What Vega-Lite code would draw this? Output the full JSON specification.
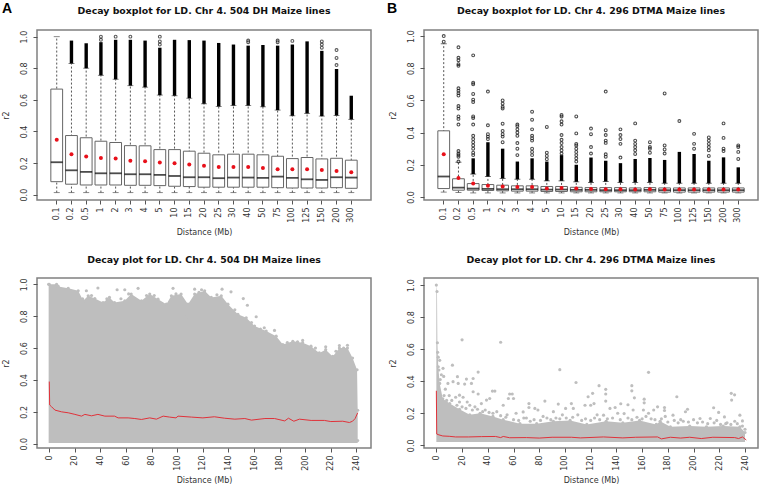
{"$schema":"https://vega.github.io/schema/vega-lite/v6.json","padding":{"left":1,"top":1,"right":0,"bottom":0},"background":"white","bounds":"flush","columns":2,"spacing":{"row":78,"column":53},
"config":{"font":"DejaVu Sans","view":{"stroke":"#808080","strokeWidth":1.5},"axis":{"grid":false,"domain":false,"tickColor":"#555","tickSize":4,"labelColor":"#333","titleColor":"#333","labelFont":"DejaVu Sans","titleFont":"DejaVu Sans","labelFontSize":8,"titleFontSize":8,"titleFontWeight":"normal","labelOverlap":false,"labelFlush":false},"title":{"font":"DejaVu Sans","fontSize":9.4,"fontWeight":"bold","color":"#111","anchor":"middle","offset":13}},
"datasets":{
"A":[
{"cat":"0.1","wlo":0.013,"q1":0.082,"med":0.205,"q3":0.668,"whi":1.0,"dense":1.0,"mean":0.347},
{"cat":"0.2","wlo":0.013,"q1":0.066,"med":0.154,"q3":0.374,"whi":0.83,"dense":0.975,"mean":0.256},
{"cat":"0.5","wlo":0.013,"q1":0.061,"med":0.144,"q3":0.36,"whi":0.8,"dense":0.958,"mean":0.241},
{"cat":"1","wlo":0.013,"q1":0.061,"med":0.135,"q3":0.338,"whi":0.755,"dense":0.965,"mean":0.232},
{"cat":"2","wlo":0.013,"q1":0.061,"med":0.135,"q3":0.33,"whi":0.73,"dense":0.98,"mean":0.228},
{"cat":"3","wlo":0.013,"q1":0.059,"med":0.129,"q3":0.31,"whi":0.69,"dense":0.98,"mean":0.214},
{"cat":"4","wlo":0.013,"q1":0.059,"med":0.129,"q3":0.309,"whi":0.68,"dense":0.975,"mean":0.211},
{"cat":"5","wlo":0.013,"q1":0.057,"med":0.125,"q3":0.285,"whi":0.63,"dense":0.93,"mean":0.203},
{"cat":"10","wlo":0.013,"q1":0.053,"med":0.118,"q3":0.285,"whi":0.626,"dense":0.98,"mean":0.199},
{"cat":"15","wlo":0.013,"q1":0.051,"med":0.11,"q3":0.275,"whi":0.61,"dense":0.978,"mean":0.19},
{"cat":"20","wlo":0.013,"q1":0.047,"med":0.11,"q3":0.262,"whi":0.575,"dense":0.975,"mean":0.182},
{"cat":"25","wlo":0.013,"q1":0.047,"med":0.104,"q3":0.252,"whi":0.558,"dense":0.96,"mean":0.175},
{"cat":"30","wlo":0.013,"q1":0.047,"med":0.108,"q3":0.256,"whi":0.564,"dense":0.95,"mean":0.175},
{"cat":"40","wlo":0.013,"q1":0.047,"med":0.108,"q3":0.256,"whi":0.564,"dense":0.943,"mean":0.175},
{"cat":"50","wlo":0.013,"q1":0.047,"med":0.106,"q3":0.252,"whi":0.556,"dense":0.947,"mean":0.169},
{"cat":"75","wlo":0.013,"q1":0.044,"med":0.114,"q3":0.243,"whi":0.535,"dense":0.943,"mean":0.16},
{"cat":"100","wlo":0.013,"q1":0.042,"med":0.106,"q3":0.228,"whi":0.499,"dense":0.95,"mean":0.16},
{"cat":"125","wlo":0.013,"q1":0.042,"med":0.097,"q3":0.235,"whi":0.514,"dense":0.97,"mean":0.16},
{"cat":"150","wlo":0.013,"q1":0.042,"med":0.093,"q3":0.226,"whi":0.497,"dense":0.91,"mean":0.156},
{"cat":"200","wlo":0.013,"q1":0.044,"med":0.11,"q3":0.23,"whi":0.501,"dense":0.795,"mean":0.15},
{"cat":"300","wlo":0.013,"q1":0.04,"med":0.108,"q3":0.218,"whi":0.476,"dense":0.626,"mean":0.142}],
"Aout":[{"cat":"1","r2":1.0},{"cat":"1","r2":0.98},{"cat":"2","r2":1.0},{"cat":"3","r2":1.0},{"cat":"5","r2":1.0},{"cat":"5","r2":0.97},{"cat":"5","r2":0.95},{"cat":"40","r2":0.975},{"cat":"40","r2":0.965},{"cat":"75","r2":0.975},{"cat":"75","r2":0.965},{"cat":"100","r2":0.973},{"cat":"150","r2":0.97},{"cat":"150","r2":0.95},{"cat":"150","r2":0.93},{"cat":"200","r2":0.915},{"cat":"200","r2":0.865},{"cat":"200","r2":0.82}],
"B":[
{"cat":"0.1","wlo":0.03,"q1":0.052,"med":0.127,"q3":0.411,"whi":0.952,"dense":0.952,"mean":0.265},
{"cat":"0.2","wlo":0.027,"q1":0.042,"med":0.058,"q3":0.113,"whi":0.215,"dense":0.215,"mean":0.117},
{"cat":"0.5","wlo":0.025,"q1":0.042,"med":0.052,"q3":0.083,"whi":0.142,"dense":0.24,"mean":0.083},
{"cat":"1","wlo":0.025,"q1":0.04,"med":0.05,"q3":0.077,"whi":0.127,"dense":0.34,"mean":0.069},
{"cat":"2","wlo":0.025,"q1":0.038,"med":0.048,"q3":0.073,"whi":0.115,"dense":0.3,"mean":0.065},
{"cat":"3","wlo":0.025,"q1":0.036,"med":0.048,"q3":0.069,"whi":0.11,"dense":0.22,"mean":0.062},
{"cat":"4","wlo":0.025,"q1":0.036,"med":0.048,"q3":0.069,"whi":0.11,"dense":0.24,"mean":0.062},
{"cat":"5","wlo":0.025,"q1":0.034,"med":0.046,"q3":0.065,"whi":0.1,"dense":0.22,"mean":0.052},
{"cat":"10","wlo":0.025,"q1":0.034,"med":0.046,"q3":0.065,"whi":0.1,"dense":0.26,"mean":0.056},
{"cat":"15","wlo":0.025,"q1":0.032,"med":0.044,"q3":0.06,"whi":0.094,"dense":0.2,"mean":0.052},
{"cat":"20","wlo":0.025,"q1":0.032,"med":0.044,"q3":0.058,"whi":0.09,"dense":0.245,"mean":0.05},
{"cat":"25","wlo":0.025,"q1":0.032,"med":0.042,"q3":0.058,"whi":0.096,"dense":0.225,"mean":0.048},
{"cat":"30","wlo":0.025,"q1":0.032,"med":0.042,"q3":0.058,"whi":0.09,"dense":0.21,"mean":0.048},
{"cat":"40","wlo":0.025,"q1":0.032,"med":0.042,"q3":0.056,"whi":0.09,"dense":0.236,"mean":0.047},
{"cat":"50","wlo":0.025,"q1":0.032,"med":0.044,"q3":0.058,"whi":0.09,"dense":0.242,"mean":0.048},
{"cat":"75","wlo":0.025,"q1":0.03,"med":0.042,"q3":0.056,"whi":0.085,"dense":0.23,"mean":0.046},
{"cat":"100","wlo":0.025,"q1":0.03,"med":0.042,"q3":0.056,"whi":0.085,"dense":0.28,"mean":0.046},
{"cat":"125","wlo":0.025,"q1":0.03,"med":0.042,"q3":0.056,"whi":0.085,"dense":0.267,"mean":0.046},
{"cat":"150","wlo":0.025,"q1":0.03,"med":0.042,"q3":0.056,"whi":0.085,"dense":0.225,"mean":0.046},
{"cat":"200","wlo":0.025,"q1":0.03,"med":0.042,"q3":0.056,"whi":0.085,"dense":0.246,"mean":0.046},
{"cat":"300","wlo":0.025,"q1":0.03,"med":0.042,"q3":0.056,"whi":0.085,"dense":0.184,"mean":0.046}],
"Bout":[{"cat":"0.1","r2":1.0},{"cat":"0.1","r2":0.965},
{"cat":"0.2","r2":0.93},{"cat":"0.2","r2":0.865},{"cat":"0.2","r2":0.85},{"cat":"0.2","r2":0.825},{"cat":"0.2","r2":0.815},{"cat":"0.2","r2":0.675},{"cat":"0.2","r2":0.66},{"cat":"0.2","r2":0.645},{"cat":"0.2","r2":0.63},{"cat":"0.2","r2":0.565},{"cat":"0.2","r2":0.55},{"cat":"0.2","r2":0.5},{"cat":"0.2","r2":0.485},{"cat":"0.2","r2":0.45},{"cat":"0.2","r2":0.285},{"cat":"0.2","r2":0.27},{"cat":"0.2","r2":0.26},{"cat":"0.2","r2":0.25},{"cat":"0.2","r2":0.22},
{"cat":"0.5","r2":0.88},{"cat":"0.5","r2":0.71},{"cat":"0.5","r2":0.7},{"cat":"0.5","r2":0.64},{"cat":"0.5","r2":0.605},{"cat":"0.5","r2":0.59},{"cat":"0.5","r2":0.5},{"cat":"0.5","r2":0.49},{"cat":"0.5","r2":0.45},{"cat":"0.5","r2":0.38},{"cat":"0.5","r2":0.36},{"cat":"0.5","r2":0.34},{"cat":"0.5","r2":0.32},{"cat":"0.5","r2":0.3},{"cat":"0.5","r2":0.275},{"cat":"0.5","r2":0.26},
{"cat":"1","r2":0.655},{"cat":"1","r2":0.445},{"cat":"1","r2":0.39},{"cat":"1","r2":0.375},{"cat":"1","r2":0.36},
{"cat":"2","r2":0.6},{"cat":"2","r2":0.58},{"cat":"2","r2":0.56},{"cat":"2","r2":0.55},{"cat":"2","r2":0.455},{"cat":"2","r2":0.41},{"cat":"2","r2":0.39},{"cat":"2","r2":0.375},{"cat":"2","r2":0.34},
{"cat":"3","r2":0.45},{"cat":"3","r2":0.44},{"cat":"3","r2":0.42},{"cat":"3","r2":0.4},{"cat":"3","r2":0.38},{"cat":"3","r2":0.335},{"cat":"3","r2":0.3},{"cat":"3","r2":0.26},
{"cat":"4","r2":0.53},{"cat":"4","r2":0.48},{"cat":"4","r2":0.42},{"cat":"4","r2":0.38},{"cat":"4","r2":0.365},{"cat":"4","r2":0.35},{"cat":"4","r2":0.3},{"cat":"4","r2":0.28},{"cat":"4","r2":0.26},
{"cat":"5","r2":0.435},{"cat":"5","r2":0.275},{"cat":"5","r2":0.255},{"cat":"5","r2":0.235},
{"cat":"10","r2":0.51},{"cat":"10","r2":0.5},{"cat":"10","r2":0.47},{"cat":"10","r2":0.45},{"cat":"10","r2":0.385},{"cat":"10","r2":0.355},{"cat":"10","r2":0.335},{"cat":"10","r2":0.31},{"cat":"10","r2":0.29},{"cat":"10","r2":0.27},
{"cat":"15","r2":0.5},{"cat":"15","r2":0.395},{"cat":"15","r2":0.33},{"cat":"15","r2":0.32},{"cat":"15","r2":0.3},{"cat":"15","r2":0.28},{"cat":"15","r2":0.26},{"cat":"15","r2":0.24},{"cat":"15","r2":0.22},
{"cat":"20","r2":0.425},{"cat":"20","r2":0.39},{"cat":"20","r2":0.31},{"cat":"20","r2":0.27},
{"cat":"25","r2":0.655},{"cat":"25","r2":0.415},{"cat":"25","r2":0.385},{"cat":"25","r2":0.35},{"cat":"25","r2":0.336},{"cat":"25","r2":0.265},{"cat":"25","r2":0.25},
{"cat":"30","r2":0.42},{"cat":"30","r2":0.385},{"cat":"30","r2":0.36},{"cat":"30","r2":0.33},{"cat":"30","r2":0.245},
{"cat":"40","r2":0.457},{"cat":"40","r2":0.35},{"cat":"40","r2":0.33},{"cat":"40","r2":0.31},{"cat":"40","r2":0.29},{"cat":"40","r2":0.267},
{"cat":"50","r2":0.34},{"cat":"50","r2":0.31},{"cat":"50","r2":0.3},{"cat":"50","r2":0.275},
{"cat":"75","r2":0.643},{"cat":"75","r2":0.32},{"cat":"75","r2":0.295},{"cat":"75","r2":0.27},
{"cat":"100","r2":0.472},{"cat":"125","r2":0.392},{"cat":"125","r2":0.33},{"cat":"125","r2":0.3},
{"cat":"150","r2":0.37},{"cat":"150","r2":0.35},{"cat":"150","r2":0.33},{"cat":"150","r2":0.31},{"cat":"150","r2":0.29},{"cat":"150","r2":0.255},
{"cat":"200","r2":0.457},{"cat":"200","r2":0.367},{"cat":"200","r2":0.3},{"cat":"200","r2":0.285},
{"cat":"300","r2":0.32},{"cat":"300","r2":0.31},{"cat":"300","r2":0.28},{"cat":"300","r2":0.236}],
"Ccloud":[{"mb":-0.5,"r2":1.0,"low":0.005},{"mb":0,"r2":1.0,"low":0.005},{"mb":5.7,"r2":1.0,"low":0.005},{"mb":7,"r2":0.987,"low":0.005},{"mb":14.8,"r2":0.975,"low":0.005},{"mb":22.6,"r2":0.96,"low":0.005},{"mb":26.5,"r2":0.897,"low":0.005},{"mb":30.4,"r2":0.928,"low":0.005},{"mb":35.6,"r2":0.911,"low":0.005},{"mb":42,"r2":0.886,"low":0.005},{"mb":47,"r2":0.918,"low":0.005},{"mb":51,"r2":0.886,"low":0.005},{"mb":59,"r2":0.897,"low":0.005},{"mb":64,"r2":0.939,"low":0.005},{"mb":72,"r2":0.897,"low":0.005},{"mb":78.5,"r2":0.939,"low":0.005},{"mb":85,"r2":0.907,"low":0.005},{"mb":91.5,"r2":0.876,"low":0.005},{"mb":95.4,"r2":0.928,"low":0.005},{"mb":103,"r2":0.939,"low":0.005},{"mb":108.4,"r2":0.876,"low":0.005},{"mb":113.6,"r2":0.939,"low":0.005},{"mb":121.4,"r2":0.96,"low":0.005},{"mb":126.6,"r2":0.918,"low":0.005},{"mb":134.4,"r2":0.928,"low":0.005},{"mb":139.6,"r2":0.876,"low":0.005},{"mb":147.4,"r2":0.812,"low":0.005},{"mb":153.9,"r2":0.79,"low":0.005},{"mb":160.4,"r2":0.738,"low":0.005},{"mb":169.5,"r2":0.707,"low":0.005},{"mb":177.3,"r2":0.675,"low":0.005},{"mb":182.5,"r2":0.622,"low":0.005},{"mb":190.3,"r2":0.643,"low":0.005},{"mb":198,"r2":0.633,"low":0.005},{"mb":204.5,"r2":0.612,"low":0.005},{"mb":211,"r2":0.57,"low":0.005},{"mb":216,"r2":0.59,"low":0.005},{"mb":221.5,"r2":0.548,"low":0.005},{"mb":226.7,"r2":0.6,"low":0.005},{"mb":233,"r2":0.6,"low":0.005},{"mb":237,"r2":0.538,"low":0.005},{"mb":240.5,"r2":0.464,"low":0.005},{"mb":241,"r2":0.21,"low":0.005},{"mb":241,"r2":0.02,"low":0.005}],
"Cpts":[{"mb":38,"r2":0.977},{"mb":53,"r2":0.966},{"mb":59,"r2":0.966},{"mb":69.4,"r2":0.975},{"mb":96.7,"r2":0.975},{"mb":107,"r2":0.797},{"mb":113.6,"r2":0.97},{"mb":29,"r2":0.96},{"mb":119,"r2":0.966},{"mb":135,"r2":0.97},{"mb":142,"r2":0.953},{"mb":151.6,"r2":0.911},{"mb":154.8,"r2":0.869},{"mb":161.7,"r2":0.797},{"mb":176,"r2":0.711},{"mb":198,"r2":0.648},{"mb":168,"r2":0.728},{"mb":158,"r2":0.76},{"mb":216,"r2":0.608},{"mb":226.7,"r2":0.616},{"mb":233,"r2":0.618},{"mb":26,"r2":0.91},{"mb":33,"r2":0.93},{"mb":45,"r2":0.91},{"mb":56,"r2":0.91},{"mb":62,"r2":0.94},{"mb":76,"r2":0.93},{"mb":82,"r2":0.93},{"mb":99,"r2":0.94},{"mb":117,"r2":0.95},{"mb":131,"r2":0.935},{"mb":145,"r2":0.84},{"mb":165,"r2":0.72},{"mb":186,"r2":0.635},{"mb":194,"r2":0.64},{"mb":208,"r2":0.6},{"mb":224,"r2":0.58},{"mb":230,"r2":0.6}],
"Cline":[{"mb":0,"r2":0.39},{"mb":0.3,"r2":0.243},{"mb":1.8,"r2":0.232},{"mb":4.4,"r2":0.211},{"mb":9.6,"r2":0.2},{"mb":14.8,"r2":0.194},{"mb":20,"r2":0.184},{"mb":25.2,"r2":0.173},{"mb":27.8,"r2":0.184},{"mb":33,"r2":0.175},{"mb":38,"r2":0.184},{"mb":43.4,"r2":0.173},{"mb":51,"r2":0.173},{"mb":53.8,"r2":0.162},{"mb":61.6,"r2":0.162},{"mb":66.8,"r2":0.158},{"mb":72,"r2":0.152},{"mb":78.5,"r2":0.162},{"mb":83.7,"r2":0.154},{"mb":89,"r2":0.173},{"mb":94,"r2":0.167},{"mb":99,"r2":0.162},{"mb":100.6,"r2":0.173},{"mb":111,"r2":0.167},{"mb":120,"r2":0.162},{"mb":129,"r2":0.169},{"mb":137,"r2":0.16},{"mb":145,"r2":0.154},{"mb":152.8,"r2":0.158},{"mb":158,"r2":0.148},{"mb":168.5,"r2":0.158},{"mb":176,"r2":0.158},{"mb":184,"r2":0.143},{"mb":186.9,"r2":0.16},{"mb":191.1,"r2":0.141},{"mb":195.5,"r2":0.154},{"mb":204.6,"r2":0.146},{"mb":215,"r2":0.146},{"mb":220,"r2":0.139},{"mb":229.3,"r2":0.141},{"mb":234.5,"r2":0.133},{"mb":237,"r2":0.141},{"mb":239,"r2":0.158},{"mb":241,"r2":0.194}],
"Dcloud":[{"mb":0,"r2":1.0,"low":0.02},{"mb":0.5,"r2":0.96,"low":0.02},{"mb":0.8,"r2":0.64,"low":0.02},{"mb":1.5,"r2":0.49,"low":0.02},{"mb":2.6,"r2":0.386,"low":0.02},{"mb":5,"r2":0.29,"low":0.02},{"mb":10.4,"r2":0.26,"low":0.02},{"mb":18,"r2":0.225,"low":0.02},{"mb":26,"r2":0.19,"low":0.02},{"mb":34,"r2":0.2,"low":0.02},{"mb":44,"r2":0.18,"low":0.02},{"mb":52,"r2":0.16,"low":0.02},{"mb":65,"r2":0.135,"low":0.02},{"mb":78,"r2":0.135,"low":0.02},{"mb":91,"r2":0.15,"low":0.02},{"mb":104,"r2":0.155,"low":0.02},{"mb":117,"r2":0.13,"low":0.02},{"mb":132,"r2":0.15,"low":0.02},{"mb":145,"r2":0.14,"low":0.02},{"mb":158,"r2":0.155,"low":0.02},{"mb":171,"r2":0.13,"low":0.02},{"mb":174,"r2":0.15,"low":0.02},{"mb":182,"r2":0.115,"low":0.02},{"mb":197,"r2":0.12,"low":0.02},{"mb":210,"r2":0.115,"low":0.02},{"mb":223,"r2":0.12,"low":0.02},{"mb":236,"r2":0.115,"low":0.02},{"mb":240,"r2":0.08,"low":0.02}],
"Dpts":[{"mb":20,"r2":0.658},{"mb":50,"r2":0.643},{"mb":96,"r2":0.472},{"mb":108.6,"r2":0.392},{"mb":118,"r2":0.303},{"mb":12.5,"r2":0.5},{"mb":2.6,"r2":0.53},{"mb":5.2,"r2":0.48},{"mb":3.9,"r2":0.44},{"mb":5.7,"r2":0.43},{"mb":16.4,"r2":0.428},{"mb":32.5,"r2":0.457},{"mb":23.4,"r2":0.413},{"mb":28.6,"r2":0.417},{"mb":22,"r2":0.382},{"mb":27.3,"r2":0.386},{"mb":28.6,"r2":0.334},{"mb":32.5,"r2":0.32},{"mb":9,"r2":0.386},{"mb":13,"r2":0.397},{"mb":17,"r2":0.386},{"mb":18,"r2":0.313},{"mb":20.8,"r2":0.3},{"mb":43.6,"r2":0.338},{"mb":45.5,"r2":0.338},{"mb":41.5,"r2":0.292},{"mb":39,"r2":0.282},{"mb":57,"r2":0.32},{"mb":59,"r2":0.32},{"mb":56,"r2":0.292},{"mb":60,"r2":0.292},{"mb":52,"r2":0.25},{"mb":84.4,"r2":0.276},{"mb":72,"r2":0.26},{"mb":72,"r2":0.236},{"mb":76.6,"r2":0.23},{"mb":94.8,"r2":0.257},{"mb":105,"r2":0.26},{"mb":106.5,"r2":0.23},{"mb":100.5,"r2":0.23},{"mb":115.6,"r2":0.25},{"mb":35,"r2":0.26},{"mb":18,"r2":0.27},{"mb":26,"r2":0.25},{"mb":62,"r2":0.2},{"mb":67.5,"r2":0.208},{"mb":79,"r2":0.22},{"mb":91,"r2":0.21},{"mb":165,"r2":0.455},{"mb":126.5,"r2":0.372},{"mb":131.7,"r2":0.349},{"mb":131.7,"r2":0.32},{"mb":131.7,"r2":0.276},{"mb":121.5,"r2":0.324},{"mb":152,"r2":0.372},{"mb":152,"r2":0.34},{"mb":154,"r2":0.296},{"mb":161.6,"r2":0.288},{"mb":161.6,"r2":0.265},{"mb":187,"r2":0.303},{"mb":229.3,"r2":0.324},{"mb":231.9,"r2":0.315},{"mb":229.6,"r2":0.282},{"mb":143.4,"r2":0.259},{"mb":149,"r2":0.253},{"mb":172,"r2":0.24},{"mb":177.4,"r2":0.236},{"mb":177.4,"r2":0.217},{"mb":195.3,"r2":0.225},{"mb":193.7,"r2":0.209},{"mb":215.6,"r2":0.234},{"mb":219.5,"r2":0.205},{"mb":224,"r2":0.177},{"mb":236,"r2":0.188},{"mb":238,"r2":0.152},{"mb":135,"r2":0.23},{"mb":139,"r2":0.236},{"mb":130,"r2":0.188},{"mb":153,"r2":0.22},{"mb":161,"r2":0.22},{"mb":169,"r2":0.22},{"mb":184,"r2":0.188},{"mb":205,"r2":0.167},{"mb":213,"r2":0.167},{"mb":226,"r2":0.14},{"mb":146,"r2":0.198},{"mb":120,"r2":0.25},{"mb":122.6,"r2":0.26},{"mb":1,"r2":0.58},{"mb":1.5,"r2":0.55},{"mb":2,"r2":0.47},{"mb":3,"r2":0.41},{"mb":7,"r2":0.35},{"mb":10,"r2":0.31},{"mb":15,"r2":0.3},{"mb":24,"r2":0.27},{"mb":30,"r2":0.24},{"mb":38,"r2":0.22},{"mb":47,"r2":0.21},{"mb":55,"r2":0.19},{"mb":70,"r2":0.17},{"mb":83,"r2":0.18},{"mb":98,"r2":0.19},{"mb":110,"r2":0.19},{"mb":125,"r2":0.19},{"mb":141,"r2":0.2},{"mb":165,"r2":0.2},{"mb":178,"r2":0.18},{"mb":190,"r2":0.16},{"mb":200,"r2":0.16},{"mb":218,"r2":0.155},{"mb":232,"r2":0.15},{"mb":6,"r2":0.31},{"mb":8,"r2":0.28},{"mb":12,"r2":0.28},{"mb":16,"r2":0.25},{"mb":20,"r2":0.24},{"mb":23,"r2":0.23},{"mb":28,"r2":0.22},{"mb":32,"r2":0.225},{"mb":36,"r2":0.21},{"mb":41,"r2":0.205},{"mb":44,"r2":0.2},{"mb":50,"r2":0.185},{"mb":54,"r2":0.175},{"mb":60,"r2":0.16},{"mb":64,"r2":0.155},{"mb":68,"r2":0.17},{"mb":73,"r2":0.15},{"mb":76,"r2":0.16},{"mb":81,"r2":0.155},{"mb":86,"r2":0.17},{"mb":89,"r2":0.16},{"mb":93,"r2":0.17},{"mb":96,"r2":0.165},{"mb":101,"r2":0.17},{"mb":106,"r2":0.175},{"mb":113,"r2":0.155},{"mb":116,"r2":0.165},{"mb":120,"r2":0.155},{"mb":123,"r2":0.17},{"mb":127,"r2":0.16},{"mb":133,"r2":0.165},{"mb":137,"r2":0.17},{"mb":143,"r2":0.16},{"mb":149,"r2":0.17},{"mb":152,"r2":0.16},{"mb":156,"r2":0.175},{"mb":160,"r2":0.165},{"mb":163,"r2":0.18},{"mb":167,"r2":0.165},{"mb":170,"r2":0.16},{"mb":175,"r2":0.165},{"mb":180,"r2":0.145},{"mb":185,"r2":0.155},{"mb":188,"r2":0.14},{"mb":192,"r2":0.15},{"mb":196,"r2":0.145},{"mb":203,"r2":0.14},{"mb":207,"r2":0.145},{"mb":211,"r2":0.135},{"mb":216,"r2":0.14},{"mb":221,"r2":0.13},{"mb":225,"r2":0.135},{"mb":229,"r2":0.13},{"mb":234,"r2":0.135},{"mb":238,"r2":0.12},{"mb":240,"r2":0.1}],
"Dline":[{"mb":0,"r2":0.34},{"mb":0.3,"r2":0.07},{"mb":2,"r2":0.065},{"mb":5,"r2":0.058},{"mb":10,"r2":0.056},{"mb":15,"r2":0.052},{"mb":25,"r2":0.052},{"mb":35,"r2":0.054},{"mb":46,"r2":0.055},{"mb":50,"r2":0.048},{"mb":52,"r2":0.055},{"mb":57,"r2":0.047},{"mb":70,"r2":0.048},{"mb":80,"r2":0.045},{"mb":90,"r2":0.05},{"mb":105,"r2":0.05},{"mb":112,"r2":0.046},{"mb":130,"r2":0.052},{"mb":145,"r2":0.046},{"mb":155,"r2":0.05},{"mb":172,"r2":0.052},{"mb":175,"r2":0.04},{"mb":182,"r2":0.05},{"mb":190,"r2":0.045},{"mb":197,"r2":0.05},{"mb":206,"r2":0.042},{"mb":215,"r2":0.05},{"mb":232,"r2":0.048},{"mb":235,"r2":0.042},{"mb":238,"r2":0.052},{"mb":241,"r2":0.033}],
"letA":[{"t":"A"}],"letB":[{"t":"B"}]
},
"concat":[
{"width":334,"height":170,"title":{"text":"Decay boxplot for LD. Chr 4. 504 DH Maize lines","dy":27},
"encoding":{"x":{"field":"cat","type":"nominal","scale":{"domain":["0.1","0.2","0.5","1","2","3","4","5","10","15","20","25","30","40","50","75","100","125","150","200","300"],"paddingInner":0.2,"paddingOuter":0.94},"axis":{"labelAngle":-90,"labelAlign":"right","labelBaseline":"middle","labelPadding":3,"title":"Distance (Mb)","titleX":167,"titleY":32,"titleAnchor":"middle","titleBaseline":"middle"}},"y":{"field":"v","type":"quantitative","scale":{"domain":[-0.034,1.042],"nice":false,"zero":false},"axis":{"values":[0,0.2,0.4,0.6,0.8,1],"format":".1f","labelAngle":-90,"labelAlign":"center","labelBaseline":"bottom","labelPadding":5,"title":"r2","titleX":-31,"titleY":85,"titleAngle":-90,"titleBaseline":"middle","titleAnchor":"middle"}}},
"layer":[
{"data":{"name":"letA"},"mark":{"type":"text","font":"Liberation Sans","fontWeight":"bold","fontSize":14,"align":"left","baseline":"top","color":"#000"},"encoding":{"x":{"value":-35},"y":{"value":-28},"text":{"field":"t"}}},
{"data":{"name":"A"},"transform":[{"fold":["wlo"],"as":["k","v"]}],"mark":{"type":"rule","stroke":"#555","strokeDash":[2,2],"strokeWidth":1},"encoding":{"y2":{"field":"whi"}}},
{"data":{"name":"A"},"transform":[{"fold":["wlo"],"as":["k","v"]}],"mark":{"type":"tick","size":6,"thickness":1,"color":"#555","orient":"horizontal"}},
{"data":{"name":"A"},"transform":[{"fold":["whi"],"as":["k","v"]}],"mark":{"type":"tick","size":6,"thickness":1,"color":"#555","orient":"horizontal"}},
{"data":{"name":"A"},"transform":[{"fold":["whi"],"as":["k","v"]}],"mark":{"type":"rule","stroke":"#000","strokeWidth":3.4},"encoding":{"y2":{"field":"dense"}}},
{"data":{"name":"Aout"},"transform":[{"fold":["r2"],"as":["k","v"]}],"mark":{"type":"point","size":8,"stroke":"#222","strokeWidth":1.1,"filled":false,"opacity":0.75}},
{"data":{"name":"A"},"transform":[{"fold":["q1"],"as":["k","v"]}],"mark":{"type":"bar","fill":"white","stroke":"#666","strokeWidth":1},"encoding":{"y2":{"field":"q3"}}},
{"data":{"name":"A"},"transform":[{"fold":["med"],"as":["k","v"]}],"mark":{"type":"tick","size":12,"thickness":1.8,"color":"#000","orient":"horizontal"}},
{"data":{"name":"A"},"transform":[{"fold":["mean"],"as":["k","v"]}],"mark":{"type":"circle","size":16,"color":"#e8101a","opacity":1}}
]},
{"width":334,"height":170,"title":{"text":"Decay boxplot for LD. Chr 4. 296 DTMA Maize lines","dy":27},
"encoding":{"x":{"field":"cat","type":"nominal","scale":{"domain":["0.1","0.2","0.5","1","2","3","4","5","10","15","20","25","30","40","50","75","100","125","150","200","300"],"paddingInner":0.2,"paddingOuter":0.94},"axis":{"labelAngle":-90,"labelAlign":"right","labelBaseline":"middle","labelPadding":3,"title":"Distance (Mb)","titleX":167,"titleY":32,"titleAnchor":"middle","titleBaseline":"middle"}},"y":{"field":"v","type":"quantitative","scale":{"domain":[-0.019,1.0375],"nice":false,"zero":false},"axis":{"values":[0,0.2,0.4,0.6,0.8,1],"format":".1f","labelAngle":-90,"labelAlign":"center","labelBaseline":"bottom","labelPadding":5,"title":"r2","titleX":-31,"titleY":85,"titleAngle":-90,"titleBaseline":"middle","titleAnchor":"middle"}}},
"layer":[
{"data":{"name":"letB"},"mark":{"type":"text","font":"Liberation Sans","fontWeight":"bold","fontSize":14,"align":"left","baseline":"top","color":"#000"},"encoding":{"x":{"value":-37},"y":{"value":-28},"text":{"field":"t"}}},
{"data":{"name":"B"},"transform":[{"fold":["wlo"],"as":["k","v"]}],"mark":{"type":"rule","stroke":"#555","strokeDash":[2,2],"strokeWidth":1},"encoding":{"y2":{"field":"whi"}}},
{"data":{"name":"B"},"transform":[{"fold":["wlo"],"as":["k","v"]}],"mark":{"type":"tick","size":6,"thickness":1,"color":"#555","orient":"horizontal"}},
{"data":{"name":"B"},"transform":[{"fold":["whi"],"as":["k","v"]}],"mark":{"type":"tick","size":6,"thickness":1,"color":"#333","orient":"horizontal"}},
{"data":{"name":"B"},"transform":[{"fold":["whi"],"as":["k","v"]}],"mark":{"type":"rule","stroke":"#000","strokeWidth":3.4},"encoding":{"y2":{"field":"dense"}}},
{"data":{"name":"Bout"},"transform":[{"fold":["r2"],"as":["k","v"]}],"mark":{"type":"point","size":8,"stroke":"#222","strokeWidth":1.1,"filled":false,"opacity":0.8}},
{"data":{"name":"B"},"transform":[{"fold":["q1"],"as":["k","v"]}],"mark":{"type":"bar","fill":"white","stroke":"#666","strokeWidth":1},"encoding":{"y2":{"field":"q3"}}},
{"data":{"name":"B"},"transform":[{"fold":["med"],"as":["k","v"]}],"mark":{"type":"tick","size":12,"thickness":1.8,"color":"#000","orient":"horizontal"}},
{"data":{"name":"B"},"transform":[{"fold":["mean"],"as":["k","v"]}],"mark":{"type":"circle","size":16,"color":"#e8101a","opacity":1}}
]},
{"width":334,"height":170,"title":"Decay plot for LD. Chr 4. 504 DH Maize lines",
"encoding":{"x":{"field":"mb","type":"quantitative","scale":{"domain":[-9.6,251.4],"nice":false,"zero":false},"axis":{"values":[0,20,40,60,80,100,120,140,160,180,200,220,240],"labelAngle":-90,"labelAlign":"right","labelBaseline":"middle","labelPadding":3,"title":"Distance (Mb)","titleX":167,"titleY":32,"titleAnchor":"middle","titleBaseline":"middle"}},"y":{"field":"r2","type":"quantitative","scale":{"domain":[-0.027,1.04],"nice":false,"zero":false},"axis":{"values":[0,0.2,0.4,0.6,0.8,1],"format":".1f","labelAngle":-90,"labelAlign":"center","labelBaseline":"bottom","labelPadding":5,"title":"r2","titleX":-31,"titleY":85,"titleAngle":-90,"titleBaseline":"middle","titleAnchor":"middle"}}},
"layer":[
{"data":{"name":"Ccloud"},"mark":{"type":"area","orient":"vertical","color":"#bebebe","opacity":1},"encoding":{"y2":{"field":"low"}}},
{"data":{"name":"Ccloud"},"mark":{"type":"circle","size":10,"color":"#bebebe","opacity":1}},
{"data":{"name":"Cpts"},"mark":{"type":"circle","size":10,"color":"#bebebe","opacity":1}},
{"data":{"name":"Cline"},"mark":{"type":"line","color":"#e0323a","strokeWidth":1}}
]},
{"width":334,"height":170,"title":"Decay plot for LD. Chr 4. 296 DTMA Maize lines",
"encoding":{"x":{"field":"mb","type":"quantitative","scale":{"domain":[-9.6,250.1],"nice":false,"zero":false},"axis":{"values":[0,20,40,60,80,100,120,140,160,180,200,220,240],"labelAngle":-90,"labelAlign":"right","labelBaseline":"middle","labelPadding":3,"title":"Distance (Mb)","titleX":167,"titleY":32,"titleAnchor":"middle","titleBaseline":"middle"}},"y":{"field":"r2","type":"quantitative","scale":{"domain":[-0.017,1.044],"nice":false,"zero":false},"axis":{"values":[0,0.2,0.4,0.6,0.8,1],"format":".1f","labelAngle":-90,"labelAlign":"center","labelBaseline":"bottom","labelPadding":5,"title":"r2","titleX":-31,"titleY":85,"titleAngle":-90,"titleBaseline":"middle","titleAnchor":"middle"}}},
"layer":[
{"data":{"name":"Dcloud"},"mark":{"type":"area","orient":"vertical","color":"#bebebe","opacity":1},"encoding":{"y2":{"field":"low"}}},
{"data":{"name":"Dcloud"},"mark":{"type":"circle","size":10,"color":"#bebebe","opacity":1}},
{"data":{"name":"Dpts"},"mark":{"type":"circle","size":10,"color":"#bebebe","opacity":1}},
{"data":{"name":"Dline"},"mark":{"type":"line","color":"#e0323a","strokeWidth":1}}
]}
]}
